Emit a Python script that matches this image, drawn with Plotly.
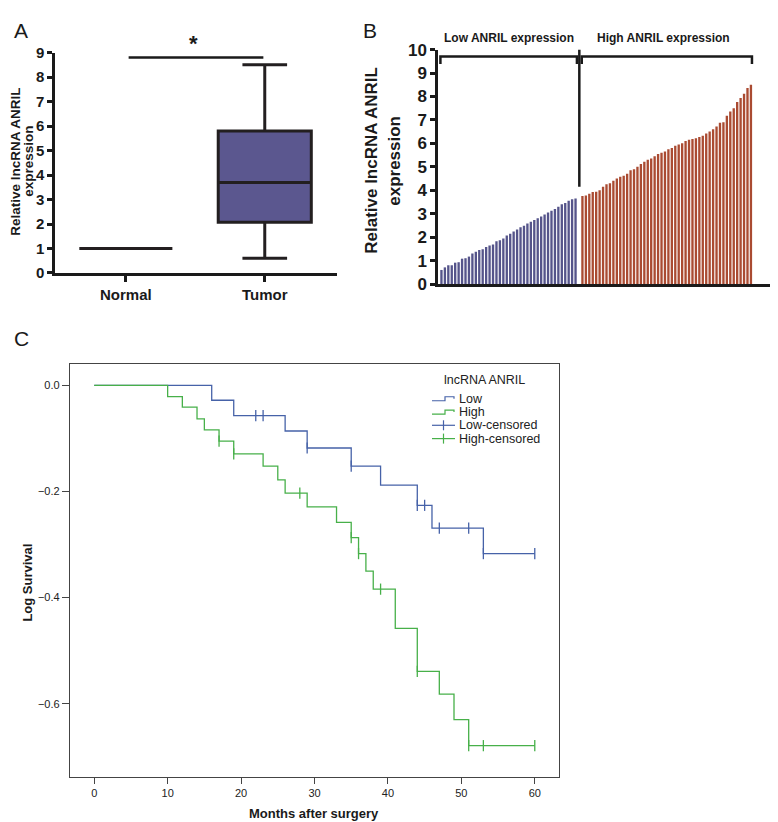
import numpy as np
import plotly.graph_objects as go

W, H = 778, 822
FONT = "Arial, Liberation Sans, sans-serif"

# ---------------- data ----------------
groups_a = ["Normal", "Tumor"]
q1_a = [1.0, 2.07]
median_a = [1.0, 3.7]
q3_a = [1.0, 5.8]
lower_a = [1.0, 0.6]
upper_a = [1.0, 8.5]

low_expr = [0.6, 0.71, 0.8, 0.8, 0.91, 0.93, 1.08, 1.1, 1.17, 1.3, 1.38, 1.45, 1.48,
            1.58, 1.64, 1.68, 1.82, 1.87, 1.94, 2.07, 2.14, 2.24, 2.32, 2.42, 2.49,
            2.58, 2.66, 2.73, 2.8, 2.88, 2.96, 3.05, 3.12, 3.2, 3.3, 3.4, 3.46, 3.55,
            3.62, 3.65]
high_expr = [3.75, 3.78, 3.85, 3.92, 3.93, 4.0, 4.15, 4.25, 4.3, 4.4,
             4.5, 4.58, 4.62, 4.7, 4.85, 4.9, 5.0, 5.12, 5.22, 5.3,
             5.35, 5.45, 5.55, 5.6, 5.65, 5.75, 5.8, 5.9, 5.95, 6.0,
             6.1, 6.15, 6.18, 6.22, 6.27, 6.32, 6.42, 6.5, 6.6, 6.72,
             6.88, 6.9, 7.18, 7.36, 7.5, 7.76, 7.93, 8.12, 8.36, 8.5]

low_t = [0, 16, 19, 26, 29, 35, 39, 44, 46, 53, 60]
low_s = [0, -0.028, -0.057, -0.086, -0.118, -0.152, -0.188, -0.226, -0.269, -0.317, -0.317]
low_cens_t = [22, 23, 29, 35, 44, 45, 47, 51, 53, 60]
low_cens_s = [-0.057, -0.057, -0.118, -0.152, -0.226, -0.226, -0.269, -0.269, -0.317, -0.317]

high_t = [0, 10, 12, 14, 15, 17, 19, 23, 25, 26, 29, 33, 35, 36, 37, 38, 41, 44, 47, 49, 51, 60]
high_s = [0, -0.021, -0.041, -0.063, -0.084, -0.105, -0.129, -0.152, -0.178, -0.203, -0.229,
          -0.258, -0.287, -0.317, -0.35, -0.384, -0.458, -0.539, -0.582, -0.630, -0.679, -0.679]
high_cens_t = [17, 19, 28, 35, 36, 39, 44, 51, 53, 60]
high_cens_s = [-0.105, -0.129, -0.203, -0.287, -0.317, -0.384, -0.539, -0.679, -0.679, -0.679]

# page-pixel -> paper fraction (compensating the page offset / vertical fit seen on screen)
OFF_X, OFF_Y, SCALE_Y = 8.0, 17.5, 0.975

def fx(p):
    return (p - OFF_X) / W

def fy(p):
    return 1 - ((p - OFF_Y) / SCALE_Y) / H

BLUE_C = "#4662a8"
GREEN_C = "#47b049"
BOX_FILL = "#5b578f"
BAR_BLUE = "#55548a"
BAR_RED = "#aa4b32"
DARK = "#1a1a1a"

fig = go.Figure()

fig.add_trace(go.Box(
    x=groups_a, q1=q1_a, median=median_a, q3=q3_a,
    lowerfence=lower_a, upperfence=upper_a,
    width=0.67, whiskerwidth=0.48,
    fillcolor=BOX_FILL, line=dict(color="#231f20", width=3),
    boxpoints=False, hoverinfo="skip", showlegend=False,
    xaxis="x", yaxis="y"))

low_x = np.arange(len(low_expr))
high_x = np.arange(len(high_expr)) + len(low_expr) + 1
fig.add_trace(go.Bar(x=low_x, y=low_expr, marker=dict(color=BAR_BLUE, line=dict(width=0)),
                     showlegend=False, hoverinfo="skip", xaxis="x2", yaxis="y2"))
fig.add_trace(go.Bar(x=high_x, y=high_expr, marker=dict(color=BAR_RED, line=dict(width=0)),
                     showlegend=False, hoverinfo="skip", xaxis="x2", yaxis="y2"))

fig.add_trace(go.Scatter(x=low_t, y=low_s, mode="lines", line=dict(color=BLUE_C, width=1.3, shape="hv"),
                         showlegend=False, hoverinfo="skip", xaxis="x3", yaxis="y3"))
fig.add_trace(go.Scatter(x=high_t, y=high_s, mode="lines", line=dict(color=GREEN_C, width=1.3, shape="hv"),
                         showlegend=False, hoverinfo="skip", xaxis="x3", yaxis="y3"))
fig.add_trace(go.Scatter(x=low_cens_t, y=low_cens_s, mode="markers",
                         marker=dict(symbol="line-ns-open", size=8, color=BLUE_C,
                                     line=dict(color=BLUE_C, width=1.3)),
                         showlegend=False, hoverinfo="skip", xaxis="x3", yaxis="y3"))
fig.add_trace(go.Scatter(x=high_cens_t, y=high_cens_s, mode="markers",
                         marker=dict(symbol="line-ns-open", size=8, color=GREEN_C,
                                     line=dict(color=GREEN_C, width=1.3)),
                         showlegend=False, hoverinfo="skip", xaxis="x3", yaxis="y3"))

bold = dict(family=FONT, color=DARK, weight="bold")

layout = dict(
    width=W, height=H, margin=dict(l=0, r=0, t=0, b=0),
    paper_bgcolor="white", plot_bgcolor="white",
    font=dict(family=FONT, color=DARK),
    bargap=0.32, barmode="overlay", boxmode="overlay",
    xaxis=dict(domain=[fx(55), fx(337)], anchor="y", type="category",
               range=[-0.51, 1.52], showline=True, linecolor=DARK, linewidth=2.5,
               ticks="outside", ticklen=6, tickwidth=2.5, tickcolor=DARK,
               tickfont=dict(size=15, **bold), showgrid=False, zeroline=False),
    yaxis=dict(domain=[fy(273), fy(53)], anchor="x", range=[0, 9], dtick=1,
               showline=True, linecolor=DARK, linewidth=2.5,
               ticks="outside", ticklen=5, tickwidth=2.5, tickcolor=DARK,
               tickfont=dict(size=15, **bold), showgrid=False, zeroline=False),
    xaxis2=dict(domain=[fx(438), fx(775)], anchor="y2", range=[-1.0, 97],
                showline=True, linecolor=DARK, linewidth=2.5, showticklabels=False,
                ticks="", showgrid=False, zeroline=False),
    yaxis2=dict(domain=[fy(284), fy(50)], anchor="x2", range=[0, 10], dtick=1,
                showline=True, linecolor=DARK, linewidth=2.5,
                ticks="outside", ticklen=5, tickwidth=2.5, tickcolor=DARK,
                tickfont=dict(size=17, **bold), showgrid=False, zeroline=False),
    xaxis3=dict(domain=[fx(70), fx(559)], anchor="y3", range=[-3.3, 63.3], dtick=10, tick0=0,
                showline=True, mirror=True, linecolor="#444", linewidth=1.3,
                ticks="outside", ticklen=6, tickwidth=1.3, tickcolor="#444",
                tickfont=dict(family=FONT, size=11, color="#222"), showgrid=False, zeroline=False),
    yaxis3=dict(domain=[fy(776), fy(364)], anchor="x3", range=[-0.738, 0.04],
                tickvals=[0, -0.2, -0.4, -0.6], tickformat=".1f",
                showline=True, mirror=True, linecolor="#444", linewidth=1.3,
                ticks="outside", ticklen=7, tickwidth=1.3, tickcolor="#444",
                tickfont=dict(family=FONT, size=11, color="#222"), showgrid=False, zeroline=False),
)
fig.update_layout(**layout)

shapes = []
shapes.append(dict(type="line", xref="x", yref="y", x0=0.02, x1=0.99, y0=8.8, y1=8.8,
                   line=dict(color=DARK, width=2.5)))
for (a, b) in [(-0.3, 39.4), (40.8, 90.3)]:
    shapes.append(dict(type="path", xref="x2", yref="y2",
                       path=f"M {a},9.38 L {a},9.7 L {b},9.7 L {b},9.38",
                       line=dict(color=DARK, width=2.5)))
shapes.append(dict(type="line", xref="x2", yref="y2", x0=40.1, x1=40.1, y0=10, y1=4.15,
                   line=dict(color=DARK, width=2.5)))

def step_icon(y, color):
    return dict(type="path", xref="paper", yref="paper",
                path=f"M {fx(432)},{fy(y+2)} L {fx(445)},{fy(y+2)} L {fx(445)},{fy(y-2)} "
                     f"L {fx(454)},{fy(y-2)} L {fx(454)},{fy(y)}",
                line=dict(color=color, width=1.2))

def cens_icon(y, color):
    return [dict(type="line", xref="paper", yref="paper", x0=fx(432), x1=fx(455), y0=fy(y), y1=fy(y),
                 line=dict(color=color, width=1.2)),
            dict(type="line", xref="paper", yref="paper", x0=fx(443.5), x1=fx(443.5), y0=fy(y - 5), y1=fy(y + 5),
                 line=dict(color=color, width=1.2))]

leg_rows = [("Low", BLUE_C, "step", 398.5), ("High", GREEN_C, "step", 411.8),
            ("Low-censored", BLUE_C, "cens", 425), ("High-censored", GREEN_C, "cens", 438.3)]
for name, col, kind, yy in leg_rows:
    if kind == "step":
        shapes.append(step_icon(yy, col))
    else:
        shapes.extend(cens_icon(yy, col))

fig.update_layout(shapes=shapes)

ann = []
def add_text(text, x, y, size, weight="normal", angle=0, xanchor="center", color=DARK, yanchor="middle"):
    yy = min(fy(y), 1.0)
    ann.append(dict(text=text, x=fx(x), y=yy, xref="paper", yref="paper", showarrow=False,
                    xanchor=xanchor, yanchor=yanchor, textangle=angle,
                    font=dict(family=FONT, size=size, color=color, weight=weight)))

add_text("A", 12, 5, 21, yanchor="top", xanchor="left")
add_text("B", 370, 5, 21, yanchor="top")
add_text("C", 12, 338, 21, xanchor="left")
add_text("*", 193, 44, 22, weight="bold")
add_text("Relative lncRNA ANRIL", 16, 162, 13.5, weight="bold", angle=-90)
add_text("expression", 29, 162, 13.5, weight="bold", angle=-90)
add_text("Low ANRIL expression", 509, 38, 12, weight="bold")
add_text("High ANRIL expression", 663, 38, 12, weight="bold")
add_text("Relative lncRNA ANRIL", 372, 161, 17, weight="bold", angle=-90)
add_text("expression", 395, 161, 17, weight="bold", angle=-90)
add_text("Log Survival", 28, 582, 13, weight="bold", angle=-90)
add_text("Months after surgery", 314, 812, 13, weight="bold")
add_text("lncRNA ANRIL", 484, 380, 12.5, color="#222")
for name, col, kind, yy in leg_rows:
    add_text(name, 457, yy, 12.5, xanchor="left", color="#222")

fig.update_layout(annotations=ann)

fig.write_html("out.html")
